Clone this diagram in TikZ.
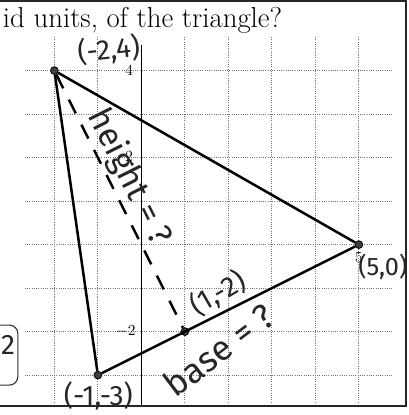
\documentclass[tikz,border=0pt]{standalone}
\usepackage{amsmath}
\usepackage{fontspec}
\newfontfamily\handfont{Fira Sans}
\usepackage{tikz}
\usetikzlibrary{positioning,calc}

\begin{document}
\begin{tikzpicture}[
    x=1.0875cm, y=1.0875cm,
    gridln/.style={densely dotted, black!55, line width=0.6pt},
    side/.style={line width=1.8pt, black},
    hgt/.style={line width=1.7pt, black, dash pattern=on 11pt off 9pt},
    vtx/.style={circle, fill=black!75, draw=black, line width=0.6pt, inner sep=0pt, minimum size=5.5pt},
    hand/.style={font=\handfont\fontsize{#1}{#1}\selectfont, text=black!85, inner sep=0pt},
    hand/.default=16,
    tick/.style={font=\fontsize{11}{12}\selectfont, inner sep=1pt},
    frame/.style={line width=1.3pt, black!85}
]
    \useasboundingbox (-3.25,-3.917) rectangle (6.152,5.623);

    % grid and axes
    \foreach \y in {-3,...,4}
        \draw [gridln] (-2.68,\y) -- (5.76,\y);
    \foreach \x in {-2,-1,1,2,3,4,5}
        \draw [gridln] (\x,4.77) -- (\x,-3.64);
    \draw [line width=0.8pt] (0,4.59) -- (0,-3.71);

    % page frame
    \draw [frame] (-3.3,5.6) -- (6.083,5.6);
    \draw [frame] (6.083,5.65) -- (6.083,-3.71) -- (-3.3,-3.71);

    \node [anchor=base east, font=\fontsize{20.5}{23}\selectfont] (title) at (3.35,4.98) {id units, of the triangle?};

    % axis numbers
    \node [tick] (t4) at (-0.28,4) {4};
    \node [tick] (t2) at (-0.28,2.03) {2};
    \node [tick] (tm2) at (-0.36,-2) {$-2$};
    \node [tick] (t5) at (5.0,-0.3) {5};

    % triangle
    \node [vtx] (A) at (-2,4) {};
    \node [vtx] (B) at (5,0) {};
    \node [vtx] (C) at (-1,-3) {};
    \node [vtx] (D) at (1,-2) {};

    \draw [side] (A) -- (B) -- (C) -- (A);
    \draw [hgt] (A) -- node [hand=24, sloped, pos=0.44, above=1pt] (hlab) {height = ?} (D);

    % handwritten labels
    \node [hand=20, rotate=6] (lA) at (-0.75,4.47) {(-2,4)};
    \node [hand=18] (lB) at (5.55,-0.52) {(5,0)};
    \node [hand=20] (lC) at (-0.99,-3.47) {(-1,-3)};
    \node [hand=20, rotate=30] (lD) at (1.76,-1.12) {(1,-2)};
    \node [hand=25, rotate=37] (lbase) at (1.78,-2.42) {base = ?};

    % boxed answer cut at the edge
    \draw [line width=0.8pt, black!80, rounded corners=6pt] (-3.6,-1.85) -- (-2.84,-1.85) -- (-2.84,-3.23) -- (-3.6,-3.23);
    \node [hand=20, anchor=east] (ans) at (-2.9,-2.3) {2};
\end{tikzpicture}
\end{document}
